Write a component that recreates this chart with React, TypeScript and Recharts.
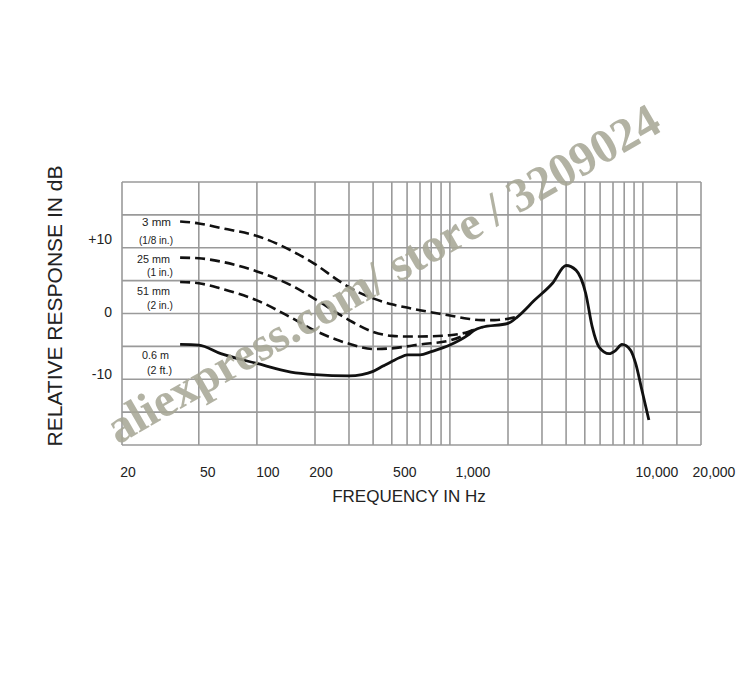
import { LineChart, Line, XAxis, YAxis, CartesianGrid } from "recharts";

// grid + tick values
const gridFreqs = [20, 50, 100, 200, 300, 400, 500, 600, 700, 800, 900, 1000, 2000, 3000, 4000, 5000, 6000, 7000, 8000, 9000, 10000, 15000, 20000];
const labeledFreqs = [20, 50, 100, 200, 500, 1000, 10000, 20000];
const dbTicks = [-20, -15, -10, -5, 0, 5, 10, 15, 20];
const labeledDb = [10, 0, -10];

// 3 mm (1/8 in.)
const freq3mm = [40, 50, 65, 100, 150, 200, 271, 300, 400, 500, 600, 700, 1000, 1240, 1460, 1700, 2000, 2240];
const db3mm = [14.0, 13.7, 13.0, 11.8, 9.6, 7.5, 4.8, 4.0, 2.3, 1.4, 0.9, 0.5, -0.3, -0.8, -1.0, -1.0, -0.8, -0.5];

// 25 mm (1 in.)
const freq25mm = [40, 50, 65, 100, 150, 200, 300, 400, 500, 600, 700, 1000, 1240, 1345];
const db25mm = [8.5, 8.4, 7.9, 6.4, 4.3, 2.2, -1.0, -2.8, -3.4, -3.5, -3.5, -3.3, -2.8, -2.4];

// 51 mm (2 in.)
const freq51mm = [40, 50, 65, 100, 150, 200, 300, 400, 500, 600, 700, 1000, 1240, 1345];
const db51mm = [4.8, 4.6, 3.8, 2.0, -0.6, -2.6, -4.6, -5.4, -5.3, -5.0, -4.7, -4.1, -3.0, -2.4];

// 0.6 m (2 ft.)
const freq06m = [40, 50, 65, 100, 150, 200, 300, 350, 400, 450, 500, 550, 600, 700, 800, 1000, 1240, 1345, 1460, 2000, 2240, 2740, 3400, 4000, 4500, 5060, 5460, 5930, 6680, 7230, 7790, 8640, 9170, 9890, 10740];
const db06m = [-4.7, -4.8, -6.1, -7.6, -8.9, -9.3, -9.5, -9.3, -8.8, -8.0, -7.3, -6.7, -6.3, -6.3, -5.8, -4.8, -3.3, -2.5, -2.1, -1.5, -0.5, 2.0, 4.6, 7.3, 6.6, 3.0, -2.0, -5.1, -6.1, -5.6, -4.7, -5.6, -7.6, -11.7, -16.2];

const toPoints = (f: number[], d: number[]) => f.map((v, i) => ({ f: v, db: d[i] }));

const FONT = "'Liberation Sans', Arial, Helvetica, sans-serif";

// the printed labels sit a bit off the grid lines in the scan
const xNudge: Record<number, number> = { 20: 6, 50: 9, 100: 11, 200: 6, 500: 13, 1000: 23, 10000: 14, 20000: 13 };
const yNudge: Record<number, number> = { 10: -9, 0: -2, [-10]: -5 };

function XTick({ x, y, payload }: any) {
  const v = payload.value;
  if (!labeledFreqs.includes(v)) return <g />;
  return (
    <text x={x + (xNudge[v] ?? 0)} y={y + 24} textAnchor="middle" fontSize={14} fontFamily={FONT} fill="#222">
      {v.toLocaleString("en-US")}
    </text>
  );
}

function YTick({ x, y, payload }: any) {
  const v = payload.value;
  if (!labeledDb.includes(v)) return <g />;
  return (
    <text x={x - 2} y={y + (yNudge[v] ?? 0) + 5} textAnchor="end" fontSize={14} fontFamily={FONT} fill="#222">
      {v > 0 ? `+${v}` : `${v}`}
    </text>
  );
}

// condensed curve captions, squeezed to the printed widths
function Cap({ x, y, w, children }: { x: number; y: number; w: number; children: string }) {
  return (
    <text x={x - w} y={y} textLength={w} lengthAdjust="spacingAndGlyphs" fontSize={11.5} fontFamily={FONT} fill="#222">
      {children}
    </text>
  );
}

function Notes() {
  return (
    <svg width={745} height={696} style={{ position: "absolute", left: 0, top: 0, pointerEvents: "none" }}>
      <Cap x={171} y={226} w={29}>3 mm</Cap>
      <Cap x={173} y={244} w={34}>(1/8 in.)</Cap>
      <Cap x={170} y={262.5} w={33}>25 mm</Cap>
      <Cap x={173} y={276} w={26}>(1 in.)</Cap>
      <Cap x={170} y={294.5} w={33}>51 mm</Cap>
      <Cap x={173} y={309} w={26}>(2 in.)</Cap>
      <Cap x={169} y={359} w={27}>0.6 m</Cap>
      <Cap x={172} y={374} w={25}>(2 ft.)</Cap>

      <text x={54} y={306} transform="rotate(-90 54 306)" textAnchor="middle" dominantBaseline="central"
        fontSize={21} fontFamily={FONT} fill="#222">
        RELATIVE RESPONSE IN dB
      </text>
      <text x={409} y={502} textAnchor="middle" fontSize={17} fontFamily={FONT} fill="#222">
        FREQUENCY IN Hz
      </text>

      <text x={118} y={445} transform="rotate(-30 118 445)" fontSize={48} fontWeight="bold"
        fontFamily="'Liberation Serif', 'Times New Roman', serif" fill="#a8a897" opacity={0.88}>
        aliexpress.com/ store / 3209024
      </text>
    </svg>
  );
}

export default function App() {
  return (
    <div style={{ position: "absolute", left: 0, top: 0, width: 745, height: 696, background: "#fff" }}>
      <LineChart width={745} height={696} margin={{ top: 182, right: 44, bottom: 221, left: 62 }}>
        <CartesianGrid stroke="#9a9a9a" strokeWidth={1.6} />
        <XAxis
          dataKey="f"
          type="number"
          scale="log"
          domain={[20, 20000]}
          ticks={gridFreqs}
          interval={0}
          allowDataOverflow
          axisLine={false}
          tickLine={false}
          height={30}
          tick={<XTick />}
        />
        <YAxis
          type="number"
          domain={[-20, 20]}
          ticks={dbTicks}
          interval={0}
          axisLine={false}
          tickLine={false}
          width={60}
          tick={<YTick />}
        />
        <Line data={toPoints(freq3mm, db3mm)} dataKey="db" type="monotone" stroke="#111" strokeWidth={2.6}
          strokeDasharray="10 5" dot={false} isAnimationActive={false} />
        <Line data={toPoints(freq25mm, db25mm)} dataKey="db" type="monotone" stroke="#111" strokeWidth={2.6}
          strokeDasharray="10 5" dot={false} isAnimationActive={false} />
        <Line data={toPoints(freq51mm, db51mm)} dataKey="db" type="monotone" stroke="#111" strokeWidth={2.6}
          strokeDasharray="10 5" dot={false} isAnimationActive={false} />
        <Line data={toPoints(freq06m, db06m)} dataKey="db" type="monotone" stroke="#111" strokeWidth={2.8}
          dot={false} isAnimationActive={false} />
      </LineChart>
      <Notes />
    </div>
  );
}
